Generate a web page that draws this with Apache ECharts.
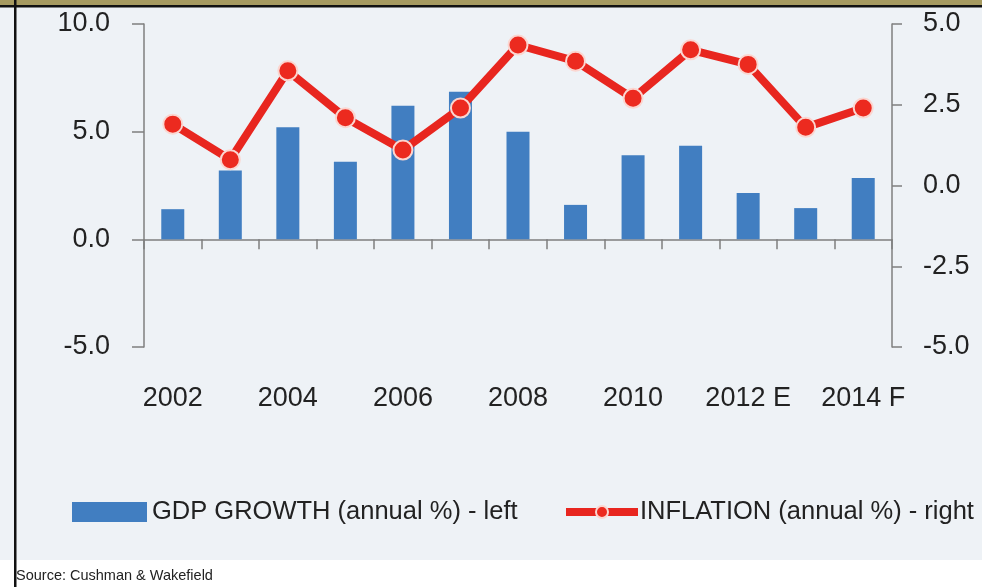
<!DOCTYPE html>
<html>
<head>
<meta charset="utf-8">
<script src="https://cdn.jsdelivr.net/npm/echarts@6/dist/echarts.min.js"></script>
<style>
html,body{margin:0;padding:0;background:#fff;}
#chart{width:982px;height:587px;}
</style>
</head>
<body>
<div id="chart"></div>
<script>
// ---- data ----
const categories = ['2002','2003','2004','2005','2006','2007','2008','2009','2010','2011','2012 E','2013 F','2014 F'];
const gdpGrowth = [1.4, 3.2, 5.2, 3.6, 6.2, 6.85, 5.0, 1.6, 3.9, 4.35, 2.15, 1.45, 2.85];
const inflation = [1.9, 0.8, 3.55, 2.1, 1.1, 2.4, 4.35, 3.85, 2.7, 4.2, 3.75, 1.8, 2.4];
const leftTicks = { min: -5, max: 10, interval: 5 };
const rightTicks = { min: -5, max: 5, interval: 2.5 };
const gdpName = 'GDP GROWTH (annual %) - left';
const inflName = 'INFLATION (annual %) - right';
const sourceText = 'Source: Cushman & Wakefield';

const axisFont = "'Liberation Sans', Arial, sans-serif";
const textFont = "'Liberation Sans', Arial, sans-serif";
const axisGray = '#7f7f7f';

const chart = echarts.init(document.getElementById('chart'), null, { renderer: 'canvas' });
chart.setOption({
  animation: false,
  backgroundColor: '#eef2f6',
  graphic: [
    { type: 'rect', z: -1, shape: { x: 0, y: 560, width: 982, height: 27 }, style: { fill: '#ffffff' } },
    { type: 'rect', z: -1, shape: { x: 0, y: 0, width: 982, height: 5 }, style: { fill: '#a69a60' } },
    { type: 'rect', z: -1, shape: { x: 0, y: 5, width: 982, height: 2.5 }, style: { fill: '#111111' } },
    { type: 'rect', z: -1, shape: { x: 14, y: 0, width: 2.5, height: 587 }, style: { fill: '#111111' } }
  ],
  title: {
    text: sourceText,
    left: 16, top: 568, padding: 0,
    textStyle: { fontFamily: textFont, fontSize: 14.5, fontWeight: 'normal', color: '#222' }
  },
  legend: [
    {
      data: [gdpName], left: 72, top: 499, padding: 0, icon: 'rect',
      itemWidth: 75, itemHeight: 20, itemGap: 10,
      textStyle: { fontFamily: textFont, fontSize: 25.5, color: '#222' }
    },
    {
      data: [inflName], left: 562, top: 499, padding: 0,
      itemWidth: 72, itemHeight: 15, itemGap: 10,
      lineStyle: { width: 8 },
      textStyle: { fontFamily: textFont, fontSize: 25.5, color: '#222', padding: [0, 0, 0, -3] }
    }
  ],
  grid: { left: 144, right: 90, top: 24, bottom: 240, containLabel: false },
  xAxis: [
    {
      type: 'category', data: categories, position: 'bottom',
      axisLine: { show: false, onZero: false }, axisTick: { show: false },
      axisLabel: { interval: 1, margin: 38, fontFamily: axisFont, fontSize: 27, color: '#222' }
    },
    {
      type: 'category', data: categories, position: 'bottom',
      axisLine: { show: true, onZero: true, onZeroAxisIndex: 0, lineStyle: { color: axisGray, width: 1.5 } },
      axisTick: { show: true, length: 10, inside: false, lineStyle: { color: axisGray, width: 1.5 } },
      axisLabel: { show: false }
    }
  ],
  yAxis: [
    {
      type: 'value', position: 'left', min: leftTicks.min, max: leftTicks.max, interval: leftTicks.interval,
      axisLine: { show: true, lineStyle: { color: axisGray, width: 1.5 } },
      axisTick: { show: true, length: 12, lineStyle: { color: axisGray, width: 1.5 } },
      splitLine: { show: false },
      axisLabel: { margin: 34, fontFamily: axisFont, fontSize: 27, color: '#222', formatter: v => v.toFixed(1) }
    },
    {
      type: 'value', position: 'right', min: rightTicks.min, max: rightTicks.max, interval: rightTicks.interval,
      axisLine: { show: true, lineStyle: { color: axisGray, width: 1.5 } },
      axisTick: { show: true, length: 10, lineStyle: { color: axisGray, width: 1.5 } },
      splitLine: { show: false },
      axisLabel: { margin: 31, fontFamily: axisFont, fontSize: 27, color: '#222', formatter: v => v.toFixed(1) }
    }
  ],
  series: [
    {
      name: gdpName, type: 'bar', xAxisIndex: 0, yAxisIndex: 0, data: gdpGrowth,
      barWidth: 23, itemStyle: { color: '#417ec1' }, z: 2
    },
    {
      name: inflName, type: 'line', xAxisIndex: 0, yAxisIndex: 1, data: inflation,
      symbol: 'circle', symbolSize: 19,
      lineStyle: { color: '#e8261f', width: 8 },
      itemStyle: { color: '#ec2a1f', borderColor: '#fbd6d0', borderWidth: 2 },
      z: 3
    }
  ]
});
</script>
</body>
</html>
